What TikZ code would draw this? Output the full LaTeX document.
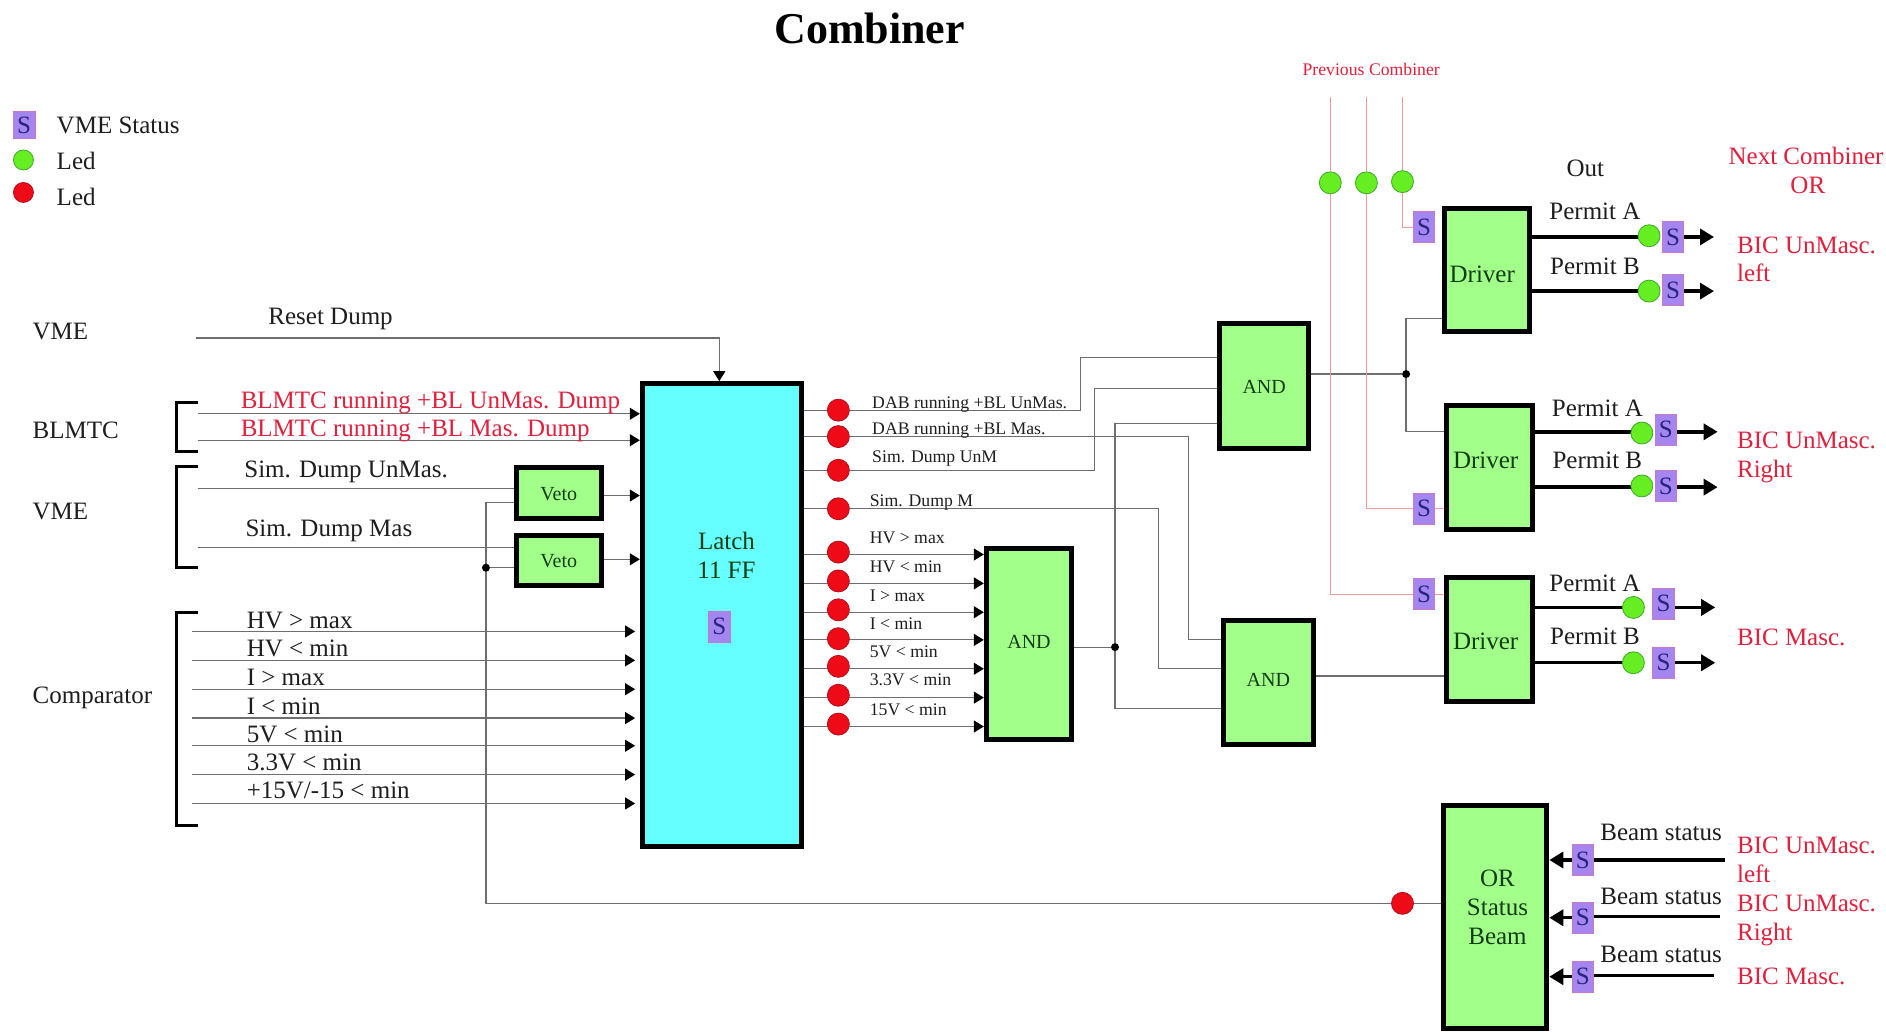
\documentclass[tikz,border=0pt]{standalone}
\usepackage{fontspec}
\setmainfont{Liberation Serif}
\usetikzlibrary{arrows.meta,fit,calc}
\pgfdeclarelayer{bg}
\pgfsetlayers{bg,main}
\definecolor{blockgreen}{HTML}{A2FF8A}
\definecolor{latchcyan}{HTML}{66FFFF}
\definecolor{statusviolet}{HTML}{A586F0}
\definecolor{statusedge}{HTML}{C878C8}
\definecolor{ledgreen}{HTML}{66EE22}
\definecolor{ledgreenedge}{HTML}{3FA82A}
\definecolor{ledred}{HTML}{EE0A16}
\definecolor{ledrededge}{HTML}{B01020}
\definecolor{redtext}{HTML}{E0203C}
\definecolor{redline}{HTML}{F09A9A}
\definecolor{wiregray}{HTML}{6E6E6E}
\definecolor{sink}{HTML}{26267E}
\definecolor{softblack}{HTML}{1E1E1E}
\definecolor{darkgreen}{HTML}{123C12}
\newcommand\fsz[1]{\fontsize{#1}{29}\selectfont}
% text in a fitted block: #1 doubled x offset, #2 raise, #3 text
\newcommand\shifted[3]{\raisebox{#2}[0pt][0pt]{\makebox[0pt][c]{\hspace*{#1}\hspace*{#1}#3}}}
\tikzset{
  x=1.2028pt,y=-1.2028pt,
  blockbox/.style={draw=black,line width=5pt,fill=blockgreen,inner sep=0pt,text=darkgreen,font=\fsz{25}},
  smallblock/.style={blockbox,font=\fsz{20}},
  latchbox/.style={blockbox,fill=latchcyan},
  statusbox/.style={draw=statusedge,line width=0.8pt,fill=statusviolet,text=sink,minimum width=21.5pt,minimum height=31pt,inner sep=0pt,font=\fsz{25}},
  legendbox/.style={statusbox,minimum width=22pt,minimum height=27pt},
  gled/.style={circle,draw=ledgreenedge,line width=0.8pt,fill=ledgreen,minimum size=22pt,inner sep=0pt},
  rled/.style={circle,draw=ledrededge,line width=0.8pt,fill=ledred,minimum size=22pt,inner sep=0pt},
  jdot/.style={circle,fill=black,minimum size=8pt,inner sep=0pt},
  lbl/.style={anchor=mid west,yshift=-6pt,inner sep=0pt,text=softblack,font=\fsz{25}},
  redlbl/.style={lbl,text=redtext},
  small/.style={lbl,yshift=2pt,font=\fsz{17.7}},
  clbl/.style={lbl,anchor=mid},
  tabl/.style={inner sep=0pt,anchor=center,font=\fsz{25}},
  wire/.style={draw=wiregray,line width=1.2pt},
  redwire/.style={draw=redline,line width=1.3pt},
  fat/.style={draw=black,line width=3.4pt},
  brack/.style={draw=black,line width=3pt},
  intip/.style={-{Triangle[length=10pt,width=12pt,color=black,fill=black]}},
  fattip/.style={-{Triangle[length=14pt,width=16pt]}},
}
\begin{document}
\begin{tikzpicture}
\useasboundingbox (0,0) rectangle (1568,857.2);
% title and legend
\node[inner sep=0pt,text=black,font=\bfseries\fsz{44}] (title) at (723,24) {Combiner};
\node[legendbox] (legS) at (20,104) {S};
\node[lbl] (legStxt) at (47,104) {VME Status};
\node[gled,minimum size=20pt] (legG) at (19.5,133) {};
\node[lbl] (legGtxt) at (47,134) {Led};
\node[rled,minimum size=20pt] (legR) at (19.5,160) {};
\node[lbl] (legRtxt) at (47,164) {Led};
% left labels
\node[lbl] (tVME) at (27,275) {VME};
\node[lbl] (tBLM) at (27,358) {BLMTC};
\node[lbl] (tVME2) at (27,425) {VME};
\node[lbl] (tCmp) at (27,578) {Comparator};
\node[lbl] (tReset) at (223,263) {Reset Dump};
\node[redlbl] (tb1) at (200,333) {BLMTC running +BL UnMas. Dump};
\node[redlbl] (tb2) at (200,356) {BLMTC running +BL Mas. Dump};
\node[lbl] (ts1) at (203,390) {Sim. Dump UnMas.};
\node[lbl] (ts2) at (204,439) {Sim. Dump Mas};
\node[lbl] (tc1) at (205,516) {HV > max};
\node[lbl] (tc2) at (205,539) {HV < min};
\node[lbl] (tc3) at (205,563) {I > max};
\node[lbl] (tc4) at (205,587) {I < min};
\node[lbl] (tc5) at (205,610) {5V < min};
\node[lbl] (tc6) at (205,634) {3.3V < min};
\node[lbl] (tc7) at (205,657) {+15V/-15 < min};
% blocks
\node[latchbox,fit={(534,319) (666,704)}] (latch) {};
\node[tabl,text=darkgreen] (latchT) at (604,464) {\fontsize{25}{29}\selectfont\begin{tabular}{@{}c@{}}Latch\\11 FF\end{tabular}};
\node[statusbox] (latchS) at (598,521) {S};
\node[smallblock,fit={(429,389) (500,431)}] (veto1) {\shifted{0pt}{-7pt}{Veto}};
\node[smallblock,fit={(429,445) (500,487)}] (veto2) {\shifted{0pt}{-7pt}{Veto}};
\node[smallblock,fit={(1014,269) (1088,373)}] (and1) {\shifted{0pt}{-7pt}{AND}};
\node[smallblock,fit={(1017,516) (1092,619)}] (and2) {\shifted{0pt}{-4pt}{AND}};
\node[smallblock,fit={(820,456) (891,615)}] (and3) {\shifted{0pt}{-4pt}{AND}};
\node[blockbox,fit={(1201,173) (1272,276)}] (drv1) {\shifted{-5pt}{-12.5pt}{Driver}};
\node[blockbox,fit={(1203,337) (1274,440)}] (drv2) {\shifted{-4pt}{-1.5pt}{Driver}};
\node[blockbox,fit={(1203,480) (1274,583)}] (drv3) {\shifted{-4pt}{-10pt}{Driver}};
\node[blockbox,fit={(1200,670) (1286,855)}] (orb) {};
\node[tabl,text=darkgreen] (orT) at (1245,756.5) {\fontsize{25}{29}\selectfont\begin{tabular}{@{}c@{}}OR\\Status\\Beam\end{tabular}};
% red leds after latch
\node[rled] (l1) at (697,341) {};
\node[rled] (l2) at (697,363) {};
\node[rled] (l3) at (697,391) {};
\node[rled] (l4) at (697,423) {};
\node[rled] (l5) at (697,459) {};
\node[rled] (l6) at (697,483) {};
\node[rled] (l7) at (697,507) {};
\node[rled] (l8) at (697,531) {};
\node[rled] (l9) at (697,554) {};
\node[rled] (l10) at (697,578) {};
\node[rled] (l11) at (697,602) {};
\node[rled] (lbeam) at (1166,751) {};
% small labels after latch
\node[small] (d1) at (725,334) {DAB running +BL UnMas.};
\node[small] (d2) at (725,356) {DAB running +BL Mas.};
\node[small] (d3) at (725,379) {Sim. Dump UnM};
\node[small] (d4) at (723,416) {Sim. Dump M};
\node[small] (d5) at (723,447) {HV > max};
\node[small] (d6) at (723,471) {HV < min};
\node[small] (d7) at (723,495) {I > max};
\node[small] (d8) at (723,518) {I < min};
\node[small] (d9) at (723,541) {5V < min};
\node[small] (d10) at (723,565) {3.3V < min};
\node[small] (d11) at (723,590) {15V < min};
% previous combiner
\node[redlbl,anchor=mid,yshift=1pt,font=\fsz{17.7}] (tprev) at (1140,57) {Previous Combiner};
\node[gled] (g1) at (1106,152) {};
\node[gled] (g2) at (1136,152) {};
\node[gled] (g3) at (1166,151) {};
\node[statusbox] (sp3) at (1184,189) {S};
\node[statusbox] (sp2) at (1184,423) {S};
\node[statusbox] (sp1) at (1184,494) {S};
\coordinate (p1) at (1106,81);
\coordinate (p2) at (1136,81);
\coordinate (p3) at (1166,81);
% outputs
\node[clbl] (tout) at (1318,140) {Out};
\node[redlbl,anchor=mid,font=\fsz{25}] (tnext) at (1501.5,130) {Next Combiner};
\node[redlbl,anchor=mid,font=\fsz{25}] (tor) at (1503,154) {OR};
\node[gled] (o1) at (1371,196) {};
\node[statusbox] (so1) at (1391,197) {S};
\node[gled] (o2) at (1371,242) {};
\node[statusbox] (so2) at (1391,241) {S};
\node[gled] (o3) at (1365,360) {};
\node[statusbox] (so3) at (1385,357) {S};
\node[gled] (o4) at (1365,404) {};
\node[statusbox] (so4) at (1385,404) {S};
\node[gled] (o5) at (1358,505) {};
\node[statusbox] (so5) at (1383,502) {S};
\node[gled] (o6) at (1358,551) {};
\node[statusbox] (so6) at (1383,551) {S};
\coordinate (e1) at (1425,197);
\coordinate (e2) at (1425,242);
\coordinate (e3) at (1428,359);
\coordinate (e4) at (1428,405);
\coordinate (e5) at (1426,505);
\coordinate (e6) at (1426,551);
\node[clbl] (pa1) at (1326,176) {Permit A};
\node[clbl] (pb1) at (1326,221) {Permit B};
\node[clbl] (pa2) at (1328,339) {Permit A};
\node[clbl] (pb2) at (1328,383) {Permit B};
\node[clbl] (pa3) at (1326,485) {Permit A};
\node[clbl] (pb3) at (1326,529) {Permit B};
\node[redlbl] (bic1) at (1444,204) {BIC UnMasc.};
\node[redlbl] (bic1b) at (1444,227) {left};
\node[redlbl] (bic2) at (1444,366) {BIC UnMasc.};
\node[redlbl] (bic2b) at (1444,390) {Right};
\node[redlbl] (bic3) at (1444,530) {BIC Masc.};
% beam status
\node[statusbox] (sb1) at (1316,715) {S};
\node[statusbox] (sb2) at (1316,763) {S};
\node[statusbox] (sb3) at (1316,812) {S};
\coordinate (b1) at (1434,715);
\coordinate (b2) at (1430,762);
\coordinate (b3) at (1425,811);
\node[clbl] (bs1) at (1381,692) {Beam status};
\node[clbl] (bs2) at (1381,745) {Beam status};
\node[clbl] (bs3) at (1381,793) {Beam status};
\node[redlbl] (bic4) at (1444,703) {BIC UnMasc.};
\node[redlbl] (bic4b) at (1444,727) {left};
\node[redlbl] (bic5) at (1444,751) {BIC UnMasc.};
\node[redlbl] (bic5b) at (1444,775) {Right};
\node[redlbl] (bic6) at (1444,812) {BIC Masc.};
% junctions
\node[jdot] (j1) at (404,472) {};
\node[jdot] (j2) at (927,538) {};
\node[jdot] (j3) at (1169,311) {};
% free ends of wires
\coordinate (r0) at (163,281);
\coordinate (i1) at (165,344);
\coordinate (i2) at (165,366);
\coordinate (i3) at (165,406);
\coordinate (i4) at (165,455);
\coordinate (c1) at (160,525);
\coordinate (c2) at (160,549);
\coordinate (c3) at (160,573);
\coordinate (c4) at (160,597);
\coordinate (c5) at (160,620);
\coordinate (c6) at (160,644);
\coordinate (c7) at (160,668);
\coordinate (ce) at (528,0);
\coordinate (a5) at (0,461);
\coordinate (a6) at (0,485);
\coordinate (a7) at (0,509);
\coordinate (a8) at (0,532);
\coordinate (a9) at (0,556);
\coordinate (a10) at (0,580);
\coordinate (a11) at (0,604);
\coordinate (bus1) at (898,297);
\coordinate (bus2) at (910,323);
\coordinate (bus3) at (927,352);
\coordinate (bus4) at (988,532);
\coordinate (bus5) at (963,556);
\coordinate (bus6) at (927,589);
\coordinate (vbus) at (404,418);
\coordinate (vbus2) at (404,751);
\coordinate (dr1) at (1169,265);
\coordinate (dr2) at (1169,359);
\coordinate (ao2) at (1092,562);
\begin{pgfonlayer}{bg}
\fill[white] (0,0) rectangle (1568,857.2);
% brackets
\draw[brack] ($(i1)+(0,-9)$) -- +(-18,0) -- +(-18,40) -- +(0,40);
\draw[brack] ($(i3)+(0,-18)$) -- +(-18,0) -- +(-18,84) -- +(0,84);
\draw[brack] ($(c1)+(5,-16)$) -- +(-18,0) -- +(-18,177) -- +(0,177);
% reset and inputs
\draw[wire,intip] (r0) -| (latch.north -| 598,0);
\draw[wire,intip] (i1) -- (latch.west |- i1);
\draw[wire,intip] (i2) -- (latch.west |- i2);
\draw[wire] (i3) -- (veto1.west |- i3);
\draw[wire] (i4) -- (veto2.west |- i4);
\draw[wire,intip] (veto1.east |- 0,412) -- (latch.west |- 0,412);
\draw[wire,intip] (veto2.east |- 0,465) -- (latch.west |- 0,465);
\draw[wire] (veto1.west |- vbus) -- (vbus) -- (vbus2) -- (lbeam) -- (orb.west |- lbeam);
\draw[wire] (j1) -- (veto2.west |- j1);
\draw[wire,intip] (c1) -- (c1 -| ce);
\draw[wire,intip] (c2) -- (c2 -| ce);
\draw[wire,intip] (c3) -- (c3 -| ce);
\draw[wire,intip] (c4) -- (c4 -| ce);
\draw[wire,intip] (c5) -- (c5 -| ce);
\draw[wire,intip] (c6) -- (c6 -| ce);
\draw[wire,intip] (c7) -- (c7 -| ce);
% latch outputs
\draw[wire] (latch.east |- l1) -- (l1) -- (l1 -| bus1) -- (bus1) -- (and1.west |- bus1);
\draw[wire] (latch.east |- l3) -- (l3) -- (l3 -| bus2) -- (bus2) -- (and1.west |- bus2);
\draw[wire] (latch.east |- l2) -- (l2) -- (l2 -| bus4) -- (bus4) -- (and2.west |- bus4);
\draw[wire] (latch.east |- l4) -- (l4) -- (l4 -| bus5) -- (bus5) -- (and2.west |- bus5);
\draw[wire,intip] (latch.east |- a5) -- (and3.west |- a5);
\draw[wire,intip] (latch.east |- a6) -- (and3.west |- a6);
\draw[wire,intip] (latch.east |- a7) -- (and3.west |- a7);
\draw[wire,intip] (latch.east |- a8) -- (and3.west |- a8);
\draw[wire,intip] (latch.east |- a9) -- (and3.west |- a9);
\draw[wire,intip] (latch.east |- a10) -- (and3.west |- a10);
\draw[wire,intip] (latch.east |- a11) -- (and3.west |- a11);
% AND network
\draw[wire] (and3.east |- j2) -- (j2);
\draw[wire] (and1.west |- bus3) -- (bus3) -- (j2) -- (bus6) -- (and2.west |- bus6);
\draw[wire] (and1.east |- j3) -- (j3);
\draw[wire] (drv1.west |- dr1) -- (dr1) -- (dr2) -- (drv2.west |- dr2);
\draw[wire] (and2.east |- ao2) -- (drv3.west |- ao2);
% previous combiner
\draw[redwire] (p1) -- (g1) -- (sp1 -| g1) -- (sp1.west);
\draw[redwire] (p2) -- (g2) -- (sp2 -| g2) -- (sp2.west);
\draw[redwire] (p3) -- (g3) -- (sp3 -| g3) -- (sp3.west);
\draw[redwire] (sp2.east) -- (drv2.west |- sp2);
\draw[redwire] (sp1.east) -- (drv3.west |- sp1);
% permit outputs
\draw[fat] (drv1.east |- e1) -- (o1 |- e1);
\draw[fat] (drv1.east |- e2) -- (o2 |- e2);
\draw[fat] (drv2.east |- e3) -- (o3 |- e3);
\draw[fat] (drv2.east |- e4) -- (o4 |- e4);
\draw[fat] (drv3.east |- e5) -- (o5 |- e5);
\draw[fat] (drv3.east |- e6) -- (o6 |- e6);
\draw[fat,fattip] (so1 |- e1) -- (e1);
\draw[fat,fattip] (so2 |- e2) -- (e2);
\draw[fat,fattip] (so3 |- e3) -- (e3);
\draw[fat,fattip] (so4 |- e4) -- (e4);
\draw[fat,fattip] (so5 |- e5) -- (e5);
\draw[fat,fattip] (so6 |- e6) -- (e6);
% beam status
\draw[fat] (b1) -- (sb1 |- b1);
\draw[fat] (b2) -- (sb2 |- b2);
\draw[fat] (b3) -- (sb3 |- b3);
\draw[fat,fattip] (sb1.center) -- (orb.east |- sb1);
\draw[fat,fattip] (sb2.center) -- (orb.east |- sb2);
\draw[fat,fattip] (sb3.center) -- (orb.east |- sb3);
\end{pgfonlayer}
\end{tikzpicture}
\end{document}
